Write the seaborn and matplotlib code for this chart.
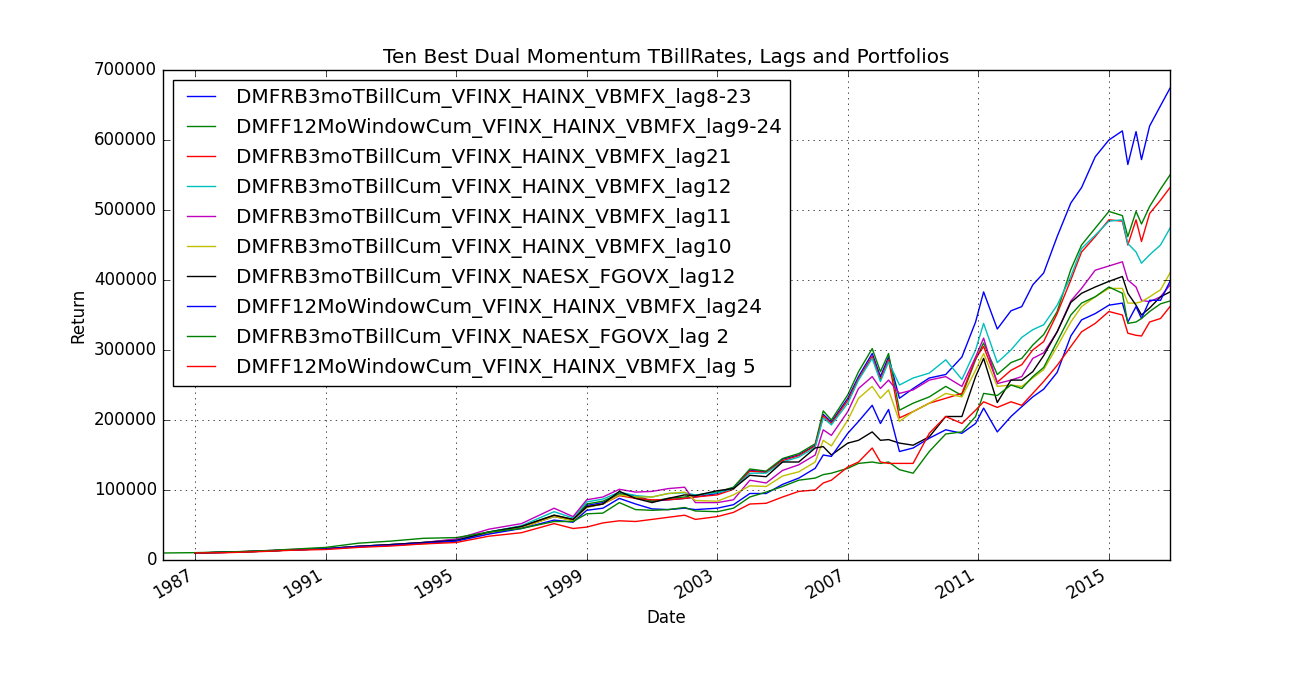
import numpy as np
import pandas as pd
import matplotlib
matplotlib.use("Agg")
import matplotlib.pyplot as plt
import matplotlib.dates as mdates
import seaborn as sns

nan = np.nan

# month of each sample (in thousands)
dates = ["1986-01-01", "1987-01-01", "1988-01-01", "1989-01-01", "1990-01-01", "1991-01-01",
         "1992-01-01", "1993-01-01", "1994-01-01", "1995-01-01", "1996-01-01", "1997-01-01",
         "1998-01-01", "1998-08-01", "1999-01-01", "1999-07-01", "2000-01-01", "2000-07-01",
         "2001-01-01", "2001-07-01", "2002-01-01", "2002-05-01", "2003-01-01", "2003-07-01",
         "2004-01-01", "2004-07-01", "2005-01-01", "2005-07-01", "2006-01-01", "2006-04-01",
         "2006-07-01", "2007-01-01", "2007-05-01", "2007-10-01", "2008-01-01", "2008-04-01",
         "2008-08-01", "2009-01-01", "2009-07-01", "2010-01-01", "2010-07-01", "2010-12-01",
         "2011-03-01", "2011-08-01", "2012-01-01", "2012-05-01", "2012-09-01", "2013-01-01",
         "2013-06-01", "2013-11-01", "2014-03-01", "2014-08-01", "2015-01-01", "2015-06-01",
         "2015-08-01", "2015-11-01", "2016-01-01", "2016-04-01", "2016-08-01", "2016-11-15"]

names = ["DMFRB3moTBillCum_VFINX_HAINX_VBMFX_lag8-23",
         "DMFF12MoWindowCum_VFINX_HAINX_VBMFX_lag9-24",
         "DMFRB3moTBillCum_VFINX_HAINX_VBMFX_lag21",
         "DMFRB3moTBillCum_VFINX_HAINX_VBMFX_lag12",
         "DMFRB3moTBillCum_VFINX_HAINX_VBMFX_lag11",
         "DMFRB3moTBillCum_VFINX_HAINX_VBMFX_lag10",
         "DMFRB3moTBillCum_VFINX_NAESX_FGOVX_lag12",
         "DMFF12MoWindowCum_VFINX_HAINX_VBMFX_lag24",
         "DMFRB3moTBillCum_VFINX_NAESX_FGOVX_lag 2",
         "DMFF12MoWindowCum_VFINX_HAINX_VBMFX_lag 5"]

s1 = [nan, 10, 11, 12.5, 14.5, 16, 19, 21, 24, 28, 38, 47, 62, 57, 78, 82, 94, 92, 84, 86,
      88, 90, 95, 103, 128, 126, 144, 150, 164, 208, 197, 231, 262, 295, 262, 290, 231, 245,
      260, 265, 290, 340, 383, 330, 356, 362, 393, 410, 462, 510, 532, 576, 600, 613, 565,
      612, 572, 620, 649, 674]
s2 = [nan, 10, 11, 12.5, 14.5, 16.5, 19.5, 22, 25, 29, 40, 48, 64, 58, 80, 84, 95, 90, 84, 88,
      90, 92, 97, 104, 130, 127, 145, 152, 166, 213, 200, 236, 269, 302, 269, 295, 214, 224,
      233, 248, 235, 286, 310, 265, 282, 288, 307, 322, 355, 415, 450, 474, 498, 492, 462,
      498, 480, 505, 530, 550]
s3 = [nan, 10, 11, 12.5, 14.5, 16, 19, 21, 24, 28, 38, 46, 63, 57, 76, 80, 92, 88, 86, 86,
      88, 90, 93, 101, 127, 125, 142, 149, 163, 206, 195, 228, 259, 291, 258, 286, 203, 212,
      224, 231, 238, 288, 305, 254, 271, 279, 300, 312, 352, 400, 440, 462, 486, 484, 450,
      486, 455, 495, 514, 532]
s4 = [nan, 10, 11, 12.5, 14.5, 16, 19.5, 22, 25, 29, 40, 49, 69, 60, 83, 87, 97, 92, 90, 95,
      96, 93, 96, 102, 124, 124, 140, 147, 161, 203, 193, 224, 257, 288, 255, 283, 250, 260,
      267, 286, 258, 300, 338, 282, 300, 318, 329, 336, 364, 405, 445, 464, 484, 486, 452,
      440, 424, 436, 450, 474]
s5 = [nan, 10, 11, 13, 15, 16, 19.5, 22, 25, 30, 44, 52, 74, 62, 86, 90, 101, 97, 98, 102,
      104, 82, 82, 86, 114, 110, 128, 136, 150, 186, 178, 212, 245, 262, 245, 257, 238, 243,
      257, 262, 248, 290, 317, 252, 257, 262, 288, 296, 326, 370, 388, 414, 420, 426, 400,
      390, 371, 369, 376, 393]
s6 = [nan, 10, 11, 12.5, 14.5, 16, 19, 21, 23, 27, 38, 46, 62, 56, 75, 80, 93, 90, 90, 95,
      97, 85, 84, 93, 106, 105, 120, 126, 140, 171, 163, 200, 231, 248, 231, 243, 198, 212,
      224, 238, 233, 271, 295, 248, 250, 248, 260, 272, 305, 340, 362, 376, 388, 388, 367,
      367, 369, 376, 386, 410]
s7 = [nan, 10, 11.5, 12.5, 14.5, 16, 19.5, 22, 25, 28, 40, 48, 64, 58, 76, 80, 98, 88, 82, 88,
      93, 92, 99, 102, 121, 119, 140, 140, 160, 162, 150, 167, 171, 183, 171, 172, 167, 164,
      176, 205, 205, 262, 288, 225, 257, 257, 269, 292, 326, 368, 381, 390, 398, 405, 381,
      364, 350, 360, 376, 383]
s8 = [nan, 10, 11, 12.5, 14.5, 16, 19, 21, 24, 27, 37, 45, 57, 54, 71, 74, 88, 80, 73, 72,
      74, 72, 74, 79, 95, 95, 108, 117, 131, 150, 148, 181, 198, 221, 195, 215, 155, 160,
      174, 186, 181, 195, 217, 183, 205, 219, 233, 244, 268, 320, 343, 352, 364, 367, 340,
      362, 345, 371, 371, 398]
s9 = [10, 10.5, 11.5, 13, 15.5, 18, 24, 27, 31, 32, 40, 45, 55, 55, 66, 67, 82, 72, 71, 72,
      75, 70, 69, 74, 90, 97, 105, 114, 117, 122, 124, 131, 138, 140, 138, 140, 129, 124,
      155, 180, 183, 205, 238, 235, 250, 245, 262, 275, 312, 350, 367, 376, 390, 381, 338,
      340, 345, 355, 366, 370]
s10 = [nan, 10, 10.5, 12, 14, 15, 18, 20, 23, 25, 34, 39, 52, 45, 47, 53, 56, 55, 58, 61,
       64, 58, 62, 68, 80, 81, 90, 98, 100, 110, 114, 133, 140, 160, 140, 138, 138, 138,
       181, 205, 195, 214, 226, 218, 226, 221, 238, 255, 278, 305, 326, 338, 355, 350, 324,
       321, 320, 340, 345, 362]

series = [s1, s2, s3, s4, s5, s6, s7, s8, s9, s10]
colors = ["b", "g", "r", "c", "m", "y", "k", "b", "g", "r"]

plt.style.use("classic")

when = pd.to_datetime(dates)
fig, ax = plt.subplots(figsize=(13, 7), dpi=100)
for name, vals, col in zip(names, series, colors):
    df = pd.DataFrame({"Date": when, "Return": np.array(vals, dtype=float) * 1000})
    df = df.dropna()
    sns.lineplot(data=df, x="Date", y="Return", color=col, label=name, ax=ax,
                 linewidth=1.0)

ax.set_xlim(when[0], when[-1])
ax.set_ylim(0, 700000)
ticks = pd.to_datetime([str(y) + "-01-01" for y in range(1987, 2016, 4)])
ax.set_xticks(ticks)
ax.xaxis.set_major_formatter(mdates.DateFormatter("%Y"))
ax.grid(True)
ax.set_title("Ten Best Dual Momentum TBillRates, Lags and Portfolios")
ax.set_xlabel("Date")
ax.set_ylabel("Return")
ax.legend(loc="upper left")
fig.autofmt_xdate()

fig.savefig("out.png", dpi=100, facecolor="white")
